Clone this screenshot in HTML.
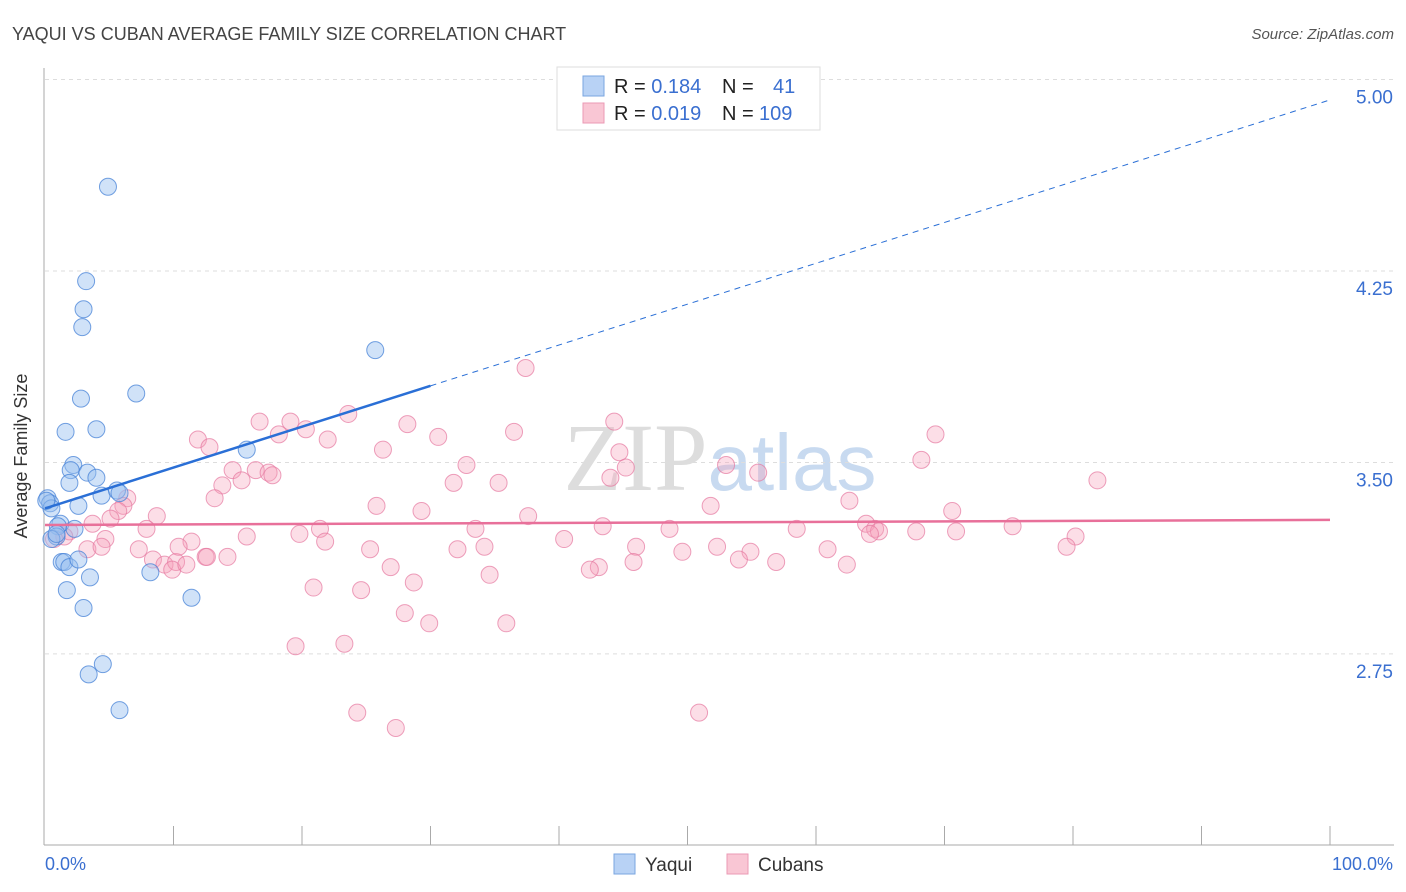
<!DOCTYPE html>
<html><head><meta charset="utf-8"><style>
body{margin:0;background:#fff;font-family:"Liberation Sans",sans-serif;}
#wrap{position:relative;width:1406px;height:892px;overflow:hidden;}
</style></head><body>
<div id="wrap">
<svg id="chart" width="1406" height="892" xmlns="http://www.w3.org/2000/svg">
<text x="12" y="40" font-size="18" fill="#444">YAQUI VS CUBAN AVERAGE FAMILY SIZE CORRELATION CHART</text>
<text x="1394" y="39" font-size="15" fill="#555" font-style="italic" text-anchor="end">Source: ZipAtlas.com</text>
<text x="720" y="490" font-size="96" fill="#ddd" text-anchor="middle" font-family="Liberation Serif,serif">ZIP<tspan fill="#c8daf0" font-family="Liberation Sans,sans-serif" font-size="80">atlas</tspan></text>
<g id="grid"></g>
<line x1="44" y1="68" x2="44" y2="845" stroke="#aaa"/>
<line x1="44" y1="845" x2="1394" y2="845" stroke="#aaa"/>
<g id="xticks"></g>
<text x="27" y="456" font-size="18" fill="#333" text-anchor="middle" transform="rotate(-90 27 456)">Average Family Size</text>
<text x="45" y="870" font-size="18" fill="#3a6fd0">0.0%</text>
<text x="1393" y="870" font-size="18" fill="#3a6fd0" text-anchor="end">100.0%</text>
<g id="pts"></g>
<g id="trends"></g>
<g>
<rect x="557" y="67" width="263" height="63" fill="#fff" stroke="#ddd"/>
<rect x="583" y="76" width="21" height="20" fill="#b8d2f5" stroke="#7aa6e0"/>
<rect x="583" y="103" width="21" height="20" fill="#f9c6d4" stroke="#eb9ab4"/>
<text x="614" y="93" font-size="20" fill="#222">R = <tspan fill="#3a6fd0">0.184</tspan><tspan x="722">N = </tspan><tspan x="773" fill="#3a6fd0">41</tspan></text>
<text x="614" y="120" font-size="20" fill="#222">R = <tspan fill="#3a6fd0">0.019</tspan><tspan x="722">N = </tspan><tspan x="759" fill="#3a6fd0">109</tspan></text>
</g>
<g>
<rect x="614" y="854" width="21" height="20" fill="#b8d2f5" stroke="#7aa6e0"/>
<text x="645" y="871" font-size="19" fill="#333">Yaqui</text>
<rect x="727" y="854" width="21" height="20" fill="#f9c6d4" stroke="#eb9ab4"/>
<text x="758" y="871" font-size="19" fill="#333">Cubans</text>
</g>
</svg>
</div>
<script>
const yTicks=[5.00,4.25,3.50,2.75];
const yaquiX=[4.9,3.2,3.0,2.9,25.7,7.1,2.8,1.6,4.0,15.7,2.2,2.0,3.3,4.0,1.9,4.4,5.6,5.8,0.2,0.4,2.6,0.5,1.2,2.3,1.0,0.9,0.5,1.3,1.5,1.9,2.6,8.2,3.5,1.7,3.0,11.4,4.5,3.4,5.8,0.1,0.9];
const yaquiY=[4.58,4.21,4.10,4.03,3.94,3.77,3.75,3.62,3.63,3.55,3.49,3.47,3.46,3.44,3.42,3.37,3.39,3.38,3.36,3.34,3.33,3.32,3.26,3.24,3.25,3.21,3.20,3.11,3.11,3.09,3.12,3.07,3.05,3.00,2.93,2.97,2.71,2.67,2.53,3.35,3.22];
const cubanX=[37.4,23.6,16.7,19.1,44.3,28.2,30.6,36.5,11.9,18.2,20.3,22.0,12.8,26.3,44.7,69.3,32.8,53.0,68.2,14.6,16.4,17.4,17.7,45.2,55.5,44.0,13.8,15.3,31.8,35.3,81.9,13.2,6.4,6.1,5.7,8.7,25.8,29.3,51.8,62.6,70.6,37.6,3.7,5.1,7.9,21.4,19.8,33.5,43.4,48.6,58.5,63.9,64.6,64.9,70.9,67.8,75.3,1.9,1.5,0.7,4.7,11.4,3.3,4.4,7.3,15.7,21.8,40.4,46.0,52.3,54.9,60.9,64.2,80.2,79.5,8.4,9.3,10.2,9.9,11.0,12.5,14.2,25.3,32.1,34.2,49.6,56.9,54.0,62.4,43.1,42.4,45.8,26.9,20.9,28.7,34.6,24.6,28.0,29.9,35.9,19.5,23.3,24.3,27.3,50.9,12.6,10.4];
const cubanY=[3.87,3.69,3.66,3.66,3.66,3.65,3.60,3.62,3.59,3.61,3.63,3.59,3.56,3.55,3.54,3.61,3.49,3.49,3.51,3.47,3.47,3.46,3.45,3.48,3.46,3.44,3.41,3.43,3.42,3.42,3.43,3.36,3.36,3.33,3.31,3.29,3.33,3.31,3.33,3.35,3.31,3.29,3.26,3.28,3.24,3.24,3.22,3.24,3.25,3.24,3.24,3.26,3.24,3.23,3.23,3.23,3.25,3.23,3.21,3.20,3.20,3.19,3.16,3.17,3.16,3.21,3.19,3.20,3.17,3.17,3.15,3.16,3.22,3.21,3.17,3.12,3.10,3.11,3.08,3.10,3.13,3.13,3.16,3.16,3.17,3.15,3.11,3.12,3.10,3.09,3.08,3.11,3.09,3.01,3.03,3.06,3.00,2.91,2.87,2.87,2.78,2.79,2.52,2.46,2.52,3.13,3.17];
const yaquiTrend=[3.32,4.92];
const cubanTrend=[3.255,3.275];
const NS='http://www.w3.org/2000/svg';
function sx(p){return 45+p*12.85;}
function sy(v){return 79.5+(5-v)*255.3;}
function mk(t,a,p){const e=document.createElementNS(NS,t);for(const k in a)e.setAttribute(k,a[k]);p.appendChild(e);return e;}
const grid=document.getElementById('grid');
yTicks.forEach(v=>{
  const l=mk('line',{x1:45,x2:1394,y1:sy(v),y2:sy(v),stroke:'#ddd','stroke-dasharray':'4,4'},grid);
  
  
  const t=mk('text',{x:1393,y:sy(v)+24,'font-size':19,fill:'#3a6fd0','text-anchor':'end'},grid);
  t.textContent=v.toFixed(2);
  
  
});
const xt=document.getElementById('xticks');
for(let i=1;i<=10;i++){
  const l=mk('line',{x1:sx(i*10),x2:sx(i*10),y1:826,y2:845,stroke:'#aaa'},xt);
  
  
}
const pts=document.getElementById('pts');
cubanX.forEach((x,i)=>{
  const c=mk('circle',{cx:sx(x),cy:sy(cubanY[i]),r:8.5,fill:'rgba(245,160,185,0.35)',stroke:'rgba(230,120,160,0.7)','stroke-width':1},pts);
  
  
});
yaquiX.forEach((x,i)=>{
  const c=mk('circle',{cx:sx(x),cy:sy(yaquiY[i]),r:8.5,fill:'rgba(150,190,240,0.45)',stroke:'rgba(70,130,215,0.75)','stroke-width':1},pts);
  
  
});
const tr=document.getElementById('trends');
const yAt=p=>yaquiTrend[0]+(yaquiTrend[1]-yaquiTrend[0])*p/100;
let l1=mk('line',{x1:sx(0),y1:sy(yAt(0)),x2:sx(30),y2:sy(yAt(30)),stroke:'#2a6fd6','stroke-width':2.5},tr);


let l2=mk('line',{x1:sx(30),y1:sy(yAt(30)),x2:sx(100),y2:sy(yAt(100)),stroke:'#2a6fd6','stroke-width':1,'stroke-dasharray':'6,5'},tr);


let l3=mk('line',{x1:sx(0),y1:sy(cubanTrend[0]),x2:sx(100),y2:sy(cubanTrend[1]),stroke:'#e8709a','stroke-width':2.5},tr);


</script>
</body></html>
